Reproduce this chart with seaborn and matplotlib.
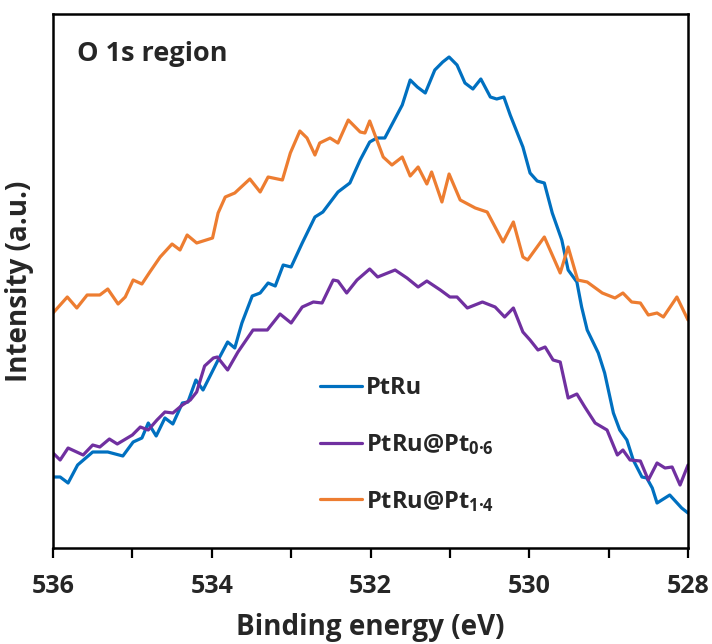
import numpy as np
import pandas as pd
import matplotlib
matplotlib.use("Agg")
import matplotlib.pyplot as plt
import seaborn as sns
from matplotlib.lines import Line2D

# ---- data (binding energy in eV, intensity in arbitrary units) ----
be_ptru = [536.00, 535.91, 535.81, 535.69, 535.50, 535.31, 535.12, 534.99, 534.88, 534.80,
           534.70, 534.59, 534.49, 534.37, 534.30, 534.20, 534.11, 533.92, 533.80, 533.71,
           533.62, 533.49, 533.39, 533.29, 533.20, 533.10, 533.00, 532.86, 532.70, 532.60,
           532.41, 532.26, 532.13, 532.01, 531.92, 531.82, 531.72, 531.60, 531.50, 531.41,
           531.31, 531.19, 531.09, 531.01, 530.91, 530.81, 530.71, 530.61, 530.49, 530.41,
           530.32, 530.24, 530.15, 530.08, 529.99, 529.90, 529.81, 529.71, 529.59, 529.51,
           529.40, 529.34, 529.27, 529.13, 529.05, 528.94, 528.86, 528.77, 528.69, 528.58,
           528.52, 528.45, 528.39, 528.23, 528.08, 528.00]
int_ptru = [71, 71, 65, 83, 96, 96, 92, 106, 110, 125,
            112, 130, 124, 145, 146, 168, 158, 188, 206, 200,
            225, 252, 255, 265, 262, 283, 281, 305, 331, 336,
            356, 365, 388, 406, 410, 410, 425, 443, 468, 461,
            455, 478, 486, 491, 483, 465, 459, 469, 451, 449,
            451, 433, 415, 401, 375, 367, 365, 335, 308, 278,
            266, 241, 218, 195, 175, 135, 118, 108, 88, 71,
            70, 60, 45, 53, 40, 35]

be_pt06 = [536.00, 535.91, 535.81, 535.62, 535.50, 535.41, 535.29, 535.19, 535.00, 534.90,
           534.80, 534.69, 534.59, 534.49, 534.37, 534.27, 534.19, 534.09, 533.98, 533.93,
           533.80, 533.67, 533.48, 533.30, 533.14, 533.00, 532.86, 532.72, 532.61, 532.47,
           532.41, 532.30, 532.17, 532.01, 531.91, 531.69, 531.54, 531.40, 531.29, 531.12,
           531.00, 530.91, 530.78, 530.59, 530.43, 530.31, 530.20, 530.08, 529.99, 529.89,
           529.80, 529.70, 529.61, 529.51, 529.40, 529.30, 529.17, 529.02, 528.89, 528.82,
           528.73, 528.60, 528.50, 528.39, 528.29, 528.20, 528.10, 528.00]
int_pt06 = [95, 88, 100, 93, 103, 101, 109, 104, 113, 121,
            118, 128, 136, 135, 143, 148, 156, 182, 190, 191,
            178, 196, 218, 218, 234, 225, 241, 246, 245, 268,
            267, 255, 268, 279, 271, 278, 270, 261, 267, 258,
            251, 251, 240, 246, 241, 231, 240, 216, 208, 198,
            201, 188, 186, 150, 154, 141, 125, 118, 93, 98,
            88, 87, 68, 85, 80, 81, 63, 83]

be_pt14 = [536.00, 535.82, 535.70, 535.57, 535.41, 535.31, 535.18, 535.09, 534.99, 534.88,
           534.78, 534.65, 534.50, 534.40, 534.31, 534.19, 533.99, 533.92, 533.83, 533.71,
           533.52, 533.39, 533.29, 533.11, 533.01, 532.89, 532.80, 532.70, 532.64, 532.51,
           532.41, 532.28, 532.13, 532.07, 532.01, 531.92, 531.84, 531.73, 531.60, 531.50,
           531.40, 531.29, 531.23, 531.10, 531.01, 530.87, 530.68, 530.53, 530.33, 530.20,
           530.08, 530.02, 529.81, 529.61, 529.51, 529.39, 529.27, 529.08, 528.92, 528.82,
           528.71, 528.60, 528.50, 528.39, 528.31, 528.14, 528.00]
int_pt14 = [235, 251, 240, 253, 253, 259, 244, 251, 268, 264,
            276, 291, 304, 298, 313, 305, 310, 335, 351, 355,
            369, 356, 371, 368, 395, 417, 410, 393, 405, 410,
            405, 428, 416, 415, 427, 408, 391, 383, 391, 372,
            381, 364, 376, 346, 374, 348, 340, 336, 306, 326,
            291, 288, 311, 275, 301, 268, 266, 255, 250, 255,
            246, 245, 233, 235, 231, 251, 228]

labels = ["PtRu", "PtRu@Pt$_\\mathregular{0\u00b76}$", "PtRu@Pt$_\\mathregular{1\u00b74}$"]
colors = ["#0070C0", "#7030A0", "#ED7D31"]

df = pd.concat([
    pd.DataFrame({"be": be_ptru, "intensity": int_ptru, "sample": labels[0]}),
    pd.DataFrame({"be": be_pt06, "intensity": int_pt06, "sample": labels[1]}),
    pd.DataFrame({"be": be_pt14, "intensity": int_pt14, "sample": labels[2]}),
], ignore_index=True)

sns.set_theme(style="white")
plt.rcParams["font.family"] = ["Open Sans", "DejaVu Sans"]
plt.rcParams["font.weight"] = "bold"
plt.rcParams["mathtext.fontset"] = "custom"
plt.rcParams["mathtext.rm"] = "Open Sans:bold"
plt.rcParams["mathtext.bf"] = "Open Sans:bold"
plt.rcParams["mathtext.it"] = "Open Sans:bold"

fig = plt.figure(figsize=(7.12, 6.44), dpi=100)
ax = fig.add_axes([53 / 712, 96 / 644, 635 / 712, 534 / 644])

sns.lineplot(data=df, x="be", y="intensity", hue="sample", palette=dict(zip(labels, colors)),
             hue_order=labels, sort=False, estimator=None, linewidth=2.3, ax=ax, legend=False)
for ln in ax.lines:
    ln.set_solid_joinstyle("round")
    ln.set_solid_capstyle("round")

ax.set_xlim(536, 528)
ax.set_ylim(0, 534)
ax.set_xticks([536, 534, 532, 530, 528])
ax.set_xticks([535, 533, 531, 529], minor=True)
ax.set_yticks([])
ax.tick_params(axis="x", which="both", direction="out", length=7, width=1.6,
               color="black", bottom=True, labelsize=18, pad=12)
for lab in ax.get_xticklabels():
    lab.set_fontweight("bold")
for s in ax.spines.values():
    s.set_color("black")
    s.set_linewidth(1.8)

ax.set_xlabel("Binding energy (eV)", fontsize=20, fontweight="bold", labelpad=10)
ax.set_ylabel("Intensity (a.u.)", fontsize=20, fontweight="bold", labelpad=14)

ax.text(0.038, 0.925, "O 1s region", transform=ax.transAxes, fontsize=19.5,
        fontweight="bold", ha="left", va="center")

handles = [Line2D([], [], color=c, linewidth=2.3) for c in colors]
leg = ax.legend(handles, labels, loc="upper left", bbox_to_anchor=(0.42, 0.322),
                frameon=False, fontsize=17, handlelength=1.8, handletextpad=0.15,
                labelspacing=1.35, borderpad=0, borderaxespad=0)
for t in leg.get_texts():
    t.set_fontweight("bold")

fig.savefig("out.png", dpi=100)
